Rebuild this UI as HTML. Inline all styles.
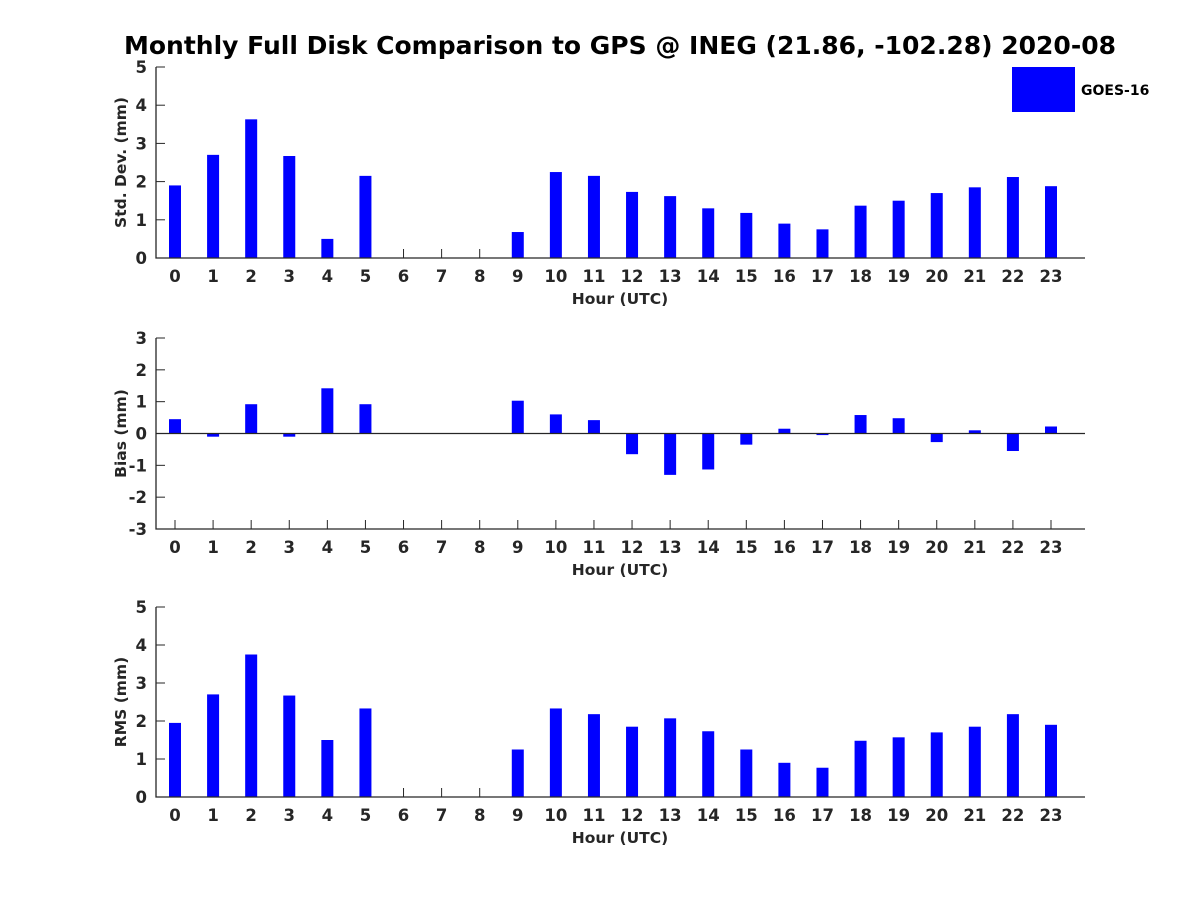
<!DOCTYPE html>
<html><head><meta charset="utf-8"><style>
body{margin:0;background:#fff}
svg text{font-family:"DejaVu Sans","Liberation Sans",sans-serif;font-weight:bold;fill:#262626}
</style></head><body>
<svg id="chart" width="1200" height="900" xmlns="http://www.w3.org/2000/svg">
<rect width="1200" height="900" fill="#fff"/>
<text x="620" y="54" font-size="25" text-anchor="middle" style="fill:#000">Monthly Full Disk Comparison to GPS @ INEG (21.86, -102.28) 2020-08</text>
<rect x="1012" y="67" width="63" height="45" fill="#0000ff"/>
<text x="1081" y="95" font-size="14" style="fill:#000">GOES-16</text>
</svg>
<script>
const hours = [0,1,2,3,4,5,6,7,8,9,10,11,12,13,14,15,16,17,18,19,20,21,22,23];
const stdVals = [1.9,2.7,3.63,2.67,0.5,2.15,null,null,null,0.68,2.25,2.15,1.73,1.62,1.3,1.18,0.9,0.75,1.37,1.5,1.7,1.85,2.12,1.88];
const biasVals = [0.45,-0.1,0.92,-0.1,1.42,0.92,null,null,null,1.03,0.6,0.42,-0.65,-1.3,-1.13,-0.35,0.15,-0.05,0.58,0.48,-0.27,0.1,-0.55,0.22];
const rmsVals = [1.95,2.7,3.75,2.67,1.5,2.33,null,null,null,1.25,2.33,2.18,1.85,2.07,1.73,1.25,0.9,0.77,1.48,1.57,1.7,1.85,2.18,1.9];
const stdTicks = [0,1,2,3,4,5];
const biasTicks = [-3,-2,-1,0,1,2,3];
const rmsTicks = [0,1,2,3,4,5];

const NS = 'http://www.w3.org/2000/svg';
const svg = document.getElementById('chart');
const X0 = 156, X1 = 1085;
function xs(h){ return 175 + h * (1051 - 175) / 23; }
function mk(tag, attrs, parent){
  const e = document.createElementNS(NS, tag);
  for (const k in attrs) e.setAttribute(k, attrs[k]);
  (parent || svg).appendChild(e);
  return e;
}
function panel(key, vals, ticks, ymin, ymax, top, bottom, ylabel){
  const g = mk('g', {});
  
  
  const ys = v => bottom - (v - ymin) * (bottom - top) / (ymax - ymin);
  // x ticks (under bars)
  hours.forEach(h => {
    mk('line', {x1: xs(h), x2: xs(h), y1: bottom, y2: bottom - 9, stroke: '#262626', 'stroke-width': 1}, g);
    const t = mk('text', {x: xs(h), y: bottom + 24, 'font-size': 16.5, 'text-anchor': 'middle'}, g);
    t.textContent = h;
    
    
  });
  // bars
  vals.forEach((v, i) => {
    if (v === null) return;
    const y0 = ys(Math.max(0, ymin)), y1 = ys(v);
    const r = mk('rect', {x: xs(hours[i]) - 6, y: Math.min(y0, y1), width: 12, height: Math.abs(y1 - y0), fill: '#0000ff'}, g);
    
    
  });
  // y ticks
  ticks.forEach(v => {
    mk('line', {x1: X0, x2: X0 + 9, y1: ys(v), y2: ys(v), stroke: '#262626', 'stroke-width': 1}, g);
    const t = mk('text', {x: X0 - 9, y: ys(v) + 6, 'font-size': 16.5, 'text-anchor': 'end'}, g);
    t.textContent = v;
    
    
  });
  if (ymin < 0) mk('line', {x1: X0, x2: X1, y1: ys(0), y2: ys(0), stroke: '#262626', 'stroke-width': 1.3}, g);
  mk('path', {d: `M${X0},${top}V${bottom}H${X1}`, fill: 'none', stroke: '#262626', 'stroke-width': 1.3}, g);
  const xl = mk('text', {x: 620, y: bottom + 46, 'font-size': 15.5, 'text-anchor': 'middle'}, g);
  xl.textContent = 'Hour (UTC)';
  
  
  const cy = (top + bottom) / 2;
  const yl = mk('text', {x: 126, y: cy, 'font-size': 15.5, 'text-anchor': 'middle', transform: `rotate(-90 126 ${cy})`}, g);
  yl.textContent = ylabel;
  
  
}
panel('std', stdVals, stdTicks, 0, 5, 67, 258, 'Std. Dev. (mm)');
panel('bias', biasVals, biasTicks, -3, 3, 338, 529, 'Bias (mm)');
panel('rms', rmsVals, rmsTicks, 0, 5, 607, 797, 'RMS (mm)');
</script>
</body></html>
